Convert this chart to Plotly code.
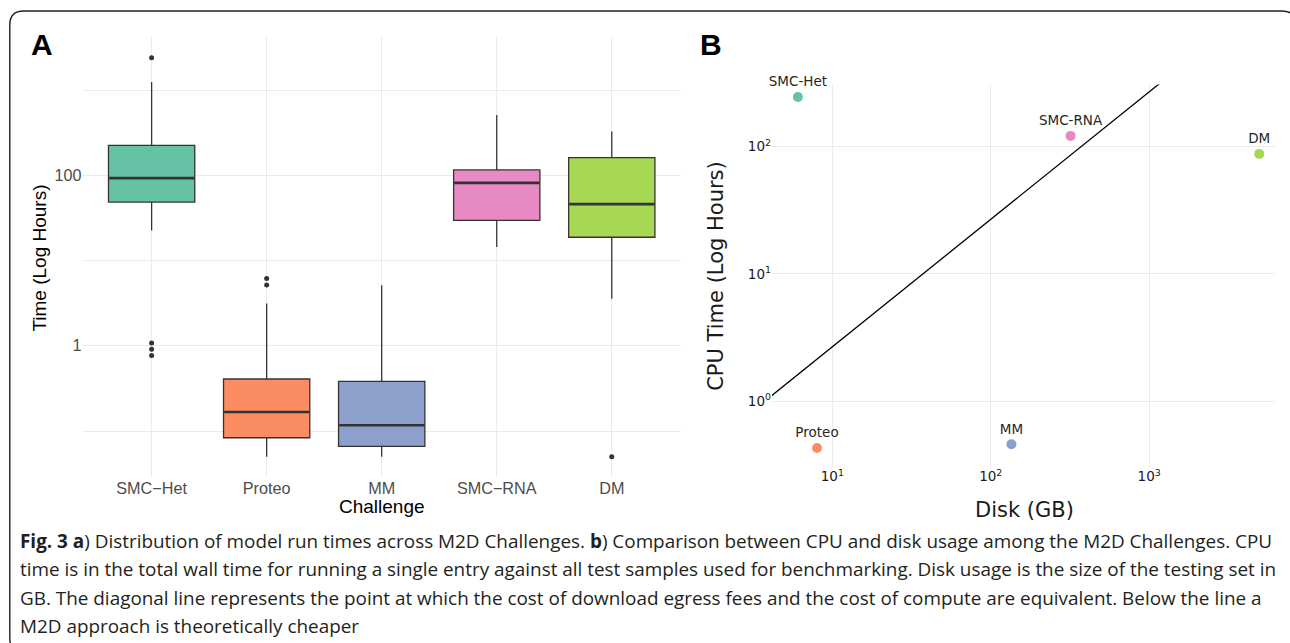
import plotly.graph_objects as go

W, H = 1290, 643

# ---------------- Panel A data (box statistics, hours) ----------------
challenges = ["SMC−Het", "Proteo", "MM", "SMC−RNA", "DM"]
box_colors = ["#66C2A5", "#FC8D62", "#8DA0CB", "#E78AC3", "#A6D854"]
q1_vals = [48.6, 0.0834, 0.0662, 29.6, 18.8]
median_vals = [93.0, 0.167, 0.117, 81.8, 46.0]
q3_vals = [225.0, 0.408, 0.383, 116.0, 162.0]
lower_whisker = [22.5, 0.0499, 0.0499, 14.4, 3.56]
upper_whisker = [1245.0, 3.13, 5.13, 513.0, 328.0]
outlier_cat = ["SMC−Het", "SMC−Het", "SMC−Het", "SMC−Het", "Proteo", "Proteo", "DM"]
outlier_val = [2404.0, 1.08, 0.91, 0.77, 6.17, 5.18, 0.0499]
a_ytickvals = [0.1, 1, 10, 100, 1000]
a_yticktext = ["", "1", "", "100", ""]

# ---------------- Panel B data ----------------
b_names = ["SMC-Het", "Proteo", "MM", "SMC-RNA", "DM"]
b_colors = ["#66C2A5", "#FC8D62", "#8DA0CB", "#E78AC3", "#A6D854"]
disk_gb = [6.06, 8.0, 135.0, 319.0, 4950.0]
cpu_hours = [244.0, 0.43, 0.46, 121.0, 87.4]
breakeven_hours_per_gb = 0.268
b_xtickvals = [10, 100, 1000]
b_xticktext = ["10<sup>1</sup>", "10<sup>2</sup>", "10<sup>3</sup>"]
b_ytickvals = [1, 10, 100]
b_yticktext = ["10<sup>0</sup>", "10<sup>1</sup>", "10<sup>2</sup>"]

caption_lines = [
    "<b>Fig. 3 a</b>) Distribution of model run times across M2D Challenges. <b>b</b>) Comparison between CPU and disk usage among the M2D Challenges. CPU",
    "time is in the total wall time for running a single entry against all test samples used for benchmarking. Disk usage is the size of the testing set in",
    "GB. The diagonal line represents the point at which the cost of download egress fees and the cost of compute are equivalent. Below the line a",
    "M2D approach is theoretically cheaper",
]


def px(x):
    return x / W


def py(y):
    return 1 - y / H


A_XRANGE = [-0.6, 4.6]
A_YRANGE = [-1.536, 3.622]
B_XRANGE = [0.619, 3.793]
B_YRANGE = [-0.513, 2.486]
A_LEFT, A_RIGHT = 82.6, 680.8
BOX_WIDTH = 0.75
box_px = BOX_WIDTH * (A_RIGHT - A_LEFT) / (A_XRANGE[1] - A_XRANGE[0])

fig = go.Figure()

for cat, col, a, m, b, lo, hi in zip(challenges, box_colors, q1_vals, median_vals,
                                     q3_vals, lower_whisker, upper_whisker):
    fig.add_trace(go.Box(
        x=[cat], q1=[a], median=[m], q3=[b], lowerfence=[lo], upperfence=[hi],
        width=BOX_WIDTH, whiskerwidth=0, fillcolor=col,
        line=dict(color="#333333", width=1.3),
        boxpoints=False, showlegend=False, hoverinfo="skip",
        xaxis="x", yaxis="y",
    ))

# thicker median bars (ggplot fatten); plotly's line-ew symbol spans 1.4 x size
fig.add_trace(go.Scatter(
    x=challenges, y=median_vals, mode="markers",
    marker=dict(symbol="line-ew", size=(box_px - 1.5) / 1.4,
                line=dict(color="#333333", width=2.6)),
    showlegend=False, hoverinfo="skip", xaxis="x", yaxis="y",
))

fig.add_trace(go.Scatter(
    x=outlier_cat, y=outlier_val, mode="markers",
    marker=dict(color="#333333", size=5),
    showlegend=False, hoverinfo="skip", xaxis="x", yaxis="y",
))

# Break-even line across the whole panel (clipped by axes)
line_x = [10 ** B_XRANGE[0] * 0.5, 10 ** B_XRANGE[1] * 2]
line_y = [breakeven_hours_per_gb * v for v in line_x]
fig.add_trace(go.Scatter(
    x=line_x, y=line_y, mode="lines",
    line=dict(color="black", width=1.3),
    showlegend=False, hoverinfo="skip", xaxis="x2", yaxis="y2",
))

fig.add_trace(go.Scatter(
    x=disk_gb, y=cpu_hours, mode="markers+text", text=b_names,
    textposition="top center",
    textfont=dict(family="DejaVu Sans", size=13.5, color="#262626"),
    marker=dict(color=b_colors, size=10),
    cliponaxis=False, showlegend=False, hoverinfo="skip",
    xaxis="x2", yaxis="y2",
))

grid = "#EBEBEB"
fig.update_layout(
    width=W, height=H, autosize=False,
    margin=dict(l=0, r=0, t=0, b=0),
    paper_bgcolor="white", plot_bgcolor="white",
    boxmode="overlay",
    xaxis=dict(
        domain=[px(A_LEFT), px(A_RIGHT)], anchor="y",
        type="category", categoryorder="array", categoryarray=challenges,
        range=A_XRANGE, showgrid=True, gridcolor=grid, gridwidth=1,
        zeroline=False, showline=False, ticks="",
        tickfont=dict(family="Liberation Sans", size=16.2, color="#4D4D4D"),
    ),
    yaxis=dict(
        domain=[py(476.7), py(37.2)], anchor="x",
        type="log", range=A_YRANGE,
        tickmode="array", tickvals=a_ytickvals, ticktext=a_yticktext,
        showgrid=True, gridcolor=grid, gridwidth=1,
        zeroline=False, showline=False, ticks="",
        tickfont=dict(family="Liberation Sans", size=16.2, color="#4D4D4D"),
    ),
    xaxis2=dict(
        domain=[px(772), px(1274.8)], anchor="y2",
        type="log", range=B_XRANGE,
        tickmode="array", tickvals=b_xtickvals, ticktext=b_xticktext,
        showgrid=True, gridcolor=grid, gridwidth=1,
        zeroline=False, showline=False, ticks="",
        tickfont=dict(family="DejaVu Sans", size=13.5, color="#1A1A1A"),
    ),
    yaxis2=dict(
        domain=[py(466.7), py(84.5)], anchor="x2",
        type="log", range=B_YRANGE,
        tickmode="array", tickvals=b_ytickvals, ticktext=b_yticktext,
        showgrid=True, gridcolor=grid, gridwidth=1,
        zeroline=False, showline=False, ticks="",
        tickfont=dict(family="DejaVu Sans", size=13.5, color="#1A1A1A"),
    ),
)

ann = []
# panel letters
ann.append(dict(x=px(29), y=py(44), text="<b>A</b>", showarrow=False, xref="paper", yref="paper",
                xanchor="left", yanchor="middle",
                font=dict(family="Liberation Sans", size=30, color="black")))
ann.append(dict(x=px(698), y=py(44), text="<b>B</b>", showarrow=False, xref="paper", yref="paper",
                xanchor="left", yanchor="middle",
                font=dict(family="Liberation Sans", size=30, color="black")))
# Panel A axis titles
ann.append(dict(x=px(381.7), y=py(506), text="Challenge", showarrow=False, xref="paper", yref="paper",
                xanchor="center", yanchor="middle",
                font=dict(family="Liberation Sans", size=19, color="black")))
ann.append(dict(x=px(38.6), y=py(258), text="Time (Log Hours)", showarrow=False, xref="paper", yref="paper",
                xanchor="center", yanchor="middle", textangle=-90,
                font=dict(family="Liberation Sans", size=19, color="black")))
# Panel B axis titles
ann.append(dict(x=px(1024.4), y=py(510), text="Disk (GB)", showarrow=False, xref="paper", yref="paper",
                xanchor="center", yanchor="middle",
                font=dict(family="DejaVu Sans", size=21, color="#1A1A1A")))
ann.append(dict(x=px(715.8), y=py(276), text="CPU Time (Log Hours)", showarrow=False, xref="paper", yref="paper",
                xanchor="center", yanchor="middle", textangle=-90,
                font=dict(family="DejaVu Sans", size=21, color="#1A1A1A")))
# caption
for i, line in enumerate(caption_lines):
    ann.append(dict(x=px(18), y=py(541 + 28.4 * i), text=line, showarrow=False,
                    xref="paper", yref="paper", xanchor="left", yanchor="middle",
                    font=dict(family="Open Sans", size=18.9, color="#231F20")))
fig.update_layout(annotations=ann)

# rounded frame
L, T, R, B, r = 9.8, 11.0, 1296.0, 652.0, 14.0
path = (f"M {px(L)},{py(T + r)} Q {px(L)},{py(T)} {px(L + r)},{py(T)} "
        f"L {px(R - r)},{py(T)} Q {px(R)},{py(T)} {px(R)},{py(T + r)} "
        f"L {px(R)},{py(B - r)} Q {px(R)},{py(B)} {px(R - r)},{py(B)} "
        f"L {px(L + r)},{py(B)} Q {px(L)},{py(B)} {px(L)},{py(B - r)} Z")
fig.add_shape(type="path", path=path, xref="paper", yref="paper",
              line=dict(color="#231F20", width=1.4), fillcolor="rgba(0,0,0,0)", layer="above")

fig.write_html("out.html", config={"displayModeBar": False})

# remove the default page margin so the figure sits at the window origin
with open("out.html", "r", encoding="utf-8") as f:
    html = f.read()
html = html.replace("<head>", "<head><style>html,body{margin:0;padding:0;overflow:hidden;}</style>", 1)
with open("out.html", "w", encoding="utf-8") as f:
    f.write(html)
